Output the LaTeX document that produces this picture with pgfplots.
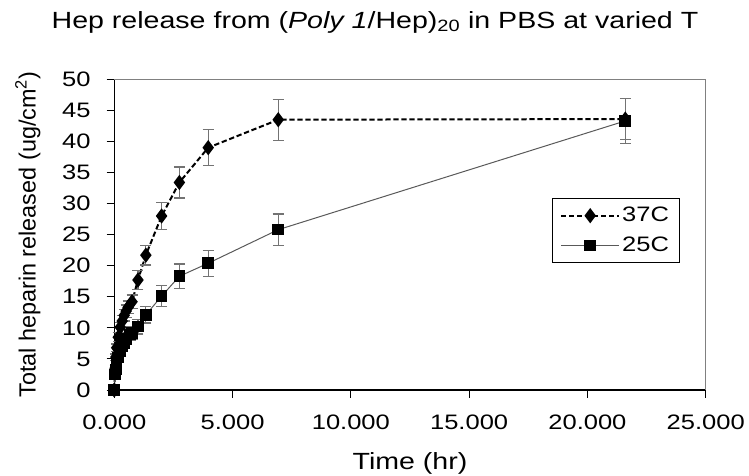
\documentclass[border=0pt]{standalone}
\usepackage{fontspec}
\setmainfont{Liberation Sans}[FakeStretch=1.22]
\newfontfamily\plainsans{Liberation Sans}
\usepackage{pgfplots}
\usepackage{pgfplotstable}
\pgfplotsset{compat=1.18}
\pgfplotstableread{
t y e
0 0 0
0.033 3.5 0.4
0.067 5.3 0.5
0.1 6.8 0.6
0.167 8.5 0.7
0.25 10.1 0.8
0.333 11.1 0.9
0.417 12.0 0.9
0.5 12.7 1.0
0.583 13.3 1.0
0.75 14.2 1.1
1.0 17.7 1.5
1.333 21.7 1.6
2.0 28.0 2.2
2.75 33.4 2.5
3.97 39.0 2.9
6.93 43.5 3.3
21.6 43.6 3.3
}\hot
\pgfplotstableread{
t y e
0 0 0
0.033 2.5 0.3
0.067 3.3 0.4
0.1 4.2 0.5
0.167 5.2 0.6
0.25 6.2 0.7
0.333 7.0 0.8
0.417 7.6 0.8
0.5 8.2 0.9
0.667 8.9 0.9
0.75 9.2 1.0
1.0 10.2 1.2
1.333 12.1 1.3
2.0 15.1 1.7
2.75 18.3 2.0
3.97 20.4 2.1
6.93 25.8 2.5
21.6 43.3 3.6
}\room
\begin{document}
\fontsize{21}{25}\selectfont
\begin{tikzpicture}
\path[use as bounding box] (-114.3bp,-86bp) rectangle (634.7bp,390bp);
\begin{axis}[
 at={(0,0)}, anchor=south west,
 scale only axis, width=591.4bp, height=310.7bp,
 xmin=0, xmax=25, ymin=0, ymax=50,
 xtick={0,5,...,25}, xticklabels={0.000,5.000,10.000,15.000,20.000,25.000},
 ytick={0,5,...,50},
 axis lines*=left, axis line style={black, line width=1.2bp, -},
 tick align=outside, major tick length=7.6bp, tick style={black, line width=1bp},
 clip=false,
 /pgf/number format/assume math mode=true,
 ticklabel style={font=\fontsize{21}{25}\selectfont},
 xticklabel style={yshift=-10bp},
 yticklabel style={xshift=-9bp},
 label style={font=\fontsize{23.5}{28}\selectfont},
 xlabel={Time (hr)},
 xlabel style={at={(axis description cs:0.5,-0.235)}, anchor=center},
 ylabel={\plainsans Total heparin released (ug/cm\textsuperscript{2})},
 ylabel style={at={(axis description cs:-0.146,0.5)}, anchor=center, rotate=0},
 legend style={at={(rel axis cs:0.7396,0.617)}, anchor=north west, draw=black,
   line width=1bp, font=\fontsize{21}{25}\selectfont, row sep=8bp,
   inner xsep=8bp, inner ysep=6bp},
 legend cell align=left,
 legend image code/.code={\draw[mark repeat=2,mark phase=2,#1] plot coordinates {(0bp,0bp) (29bp,0bp) (58bp,0bp)};},
 error bars/error bar style={black!55, line width=1.3bp, solid},
 error bars/error mark options={black!55, line width=1.3bp, mark size=5.5bp, rotate=90, solid},
]
\draw[black!50, line width=1.5bp] (rel axis cs:0,1) -- (rel axis cs:1,1) -- (rel axis cs:1,0);
\node[font=\fontsize{23.5}{28}\selectfont] at (rel axis cs:0.4408,1.1844) {Hep release from (\textit{Poly 1}/Hep)\textsubscript{20} in PBS at varied T};
\addplot[black, line width=2bp, dash pattern=on 5.3bp off 2.7bp, mark=diamond*, mark size=6bp, mark options={solid},
  error bars/.cd, y dir=both, y explicit]
  table[x=t, y=y, y error=e] {\hot};
\addlegendentry{37C}
\addplot[black!65, line width=1bp, mark=square*, mark size=5.3bp, mark options={solid, black},
  error bars/.cd, y dir=both, y explicit]
  table[x=t, y=y, y error=e] {\room};
\addlegendentry{25C}
\end{axis}
\end{tikzpicture}
\end{document}
